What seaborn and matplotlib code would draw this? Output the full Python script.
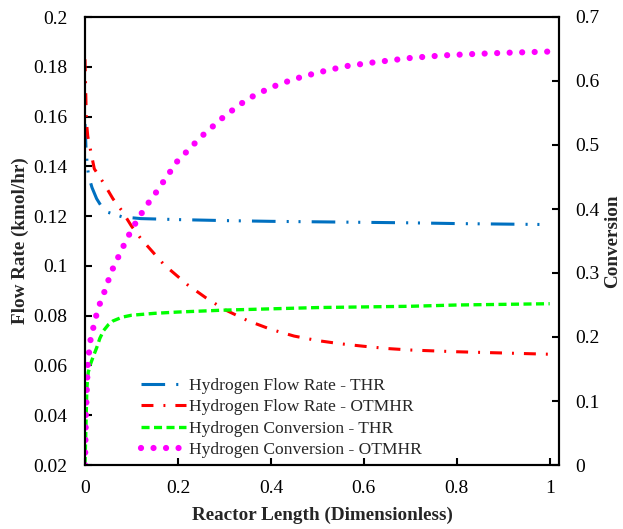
import matplotlib
matplotlib.use("Agg")
import matplotlib.pyplot as plt
import seaborn as sns
import pandas as pd
from matplotlib.ticker import FuncFormatter, MultipleLocator

# ---------------- data ----------------
x_thr_flow = [0, 0.002, 0.005, 0.008, 0.015, 0.025, 0.035, 0.05, 0.08, 0.12, 0.2, 0.3,
              0.4, 0.5, 0.6, 0.7, 0.8, 0.9, 1.0]
y_thr_flow = [0.157, 0.148, 0.14, 0.136, 0.1315, 0.127, 0.124, 0.1215, 0.1197, 0.119,
              0.1186, 0.1182, 0.1179, 0.1177, 0.1175, 0.1173, 0.1170, 0.1168, 0.1166]

x_otm_flow = [0, 0.003, 0.006, 0.02, 0.04, 0.06, 0.08, 0.1, 0.12, 0.17, 0.22, 0.26, 0.3,
              0.35, 0.4, 0.45, 0.5, 0.55, 0.6, 0.65, 0.7, 0.8, 0.9, 1.0]
y_otm_flow = [0.183, 0.158, 0.152, 0.139, 0.1333, 0.127, 0.122, 0.116, 0.111, 0.1005,
              0.0925, 0.0872, 0.0825, 0.078, 0.0745, 0.0718, 0.0700, 0.0687, 0.0677,
              0.0668, 0.0662, 0.0655, 0.065, 0.0645]

x_thr_conv = [0, 0.002, 0.004, 0.007, 0.012, 0.018, 0.025, 0.032, 0.04, 0.05, 0.06, 0.08,
              0.1, 0.15, 0.2, 0.3, 0.4, 0.5, 0.6, 0.7, 0.8, 0.9, 1.0]
y_thr_conv = [0, 0.06, 0.12, 0.145, 0.158, 0.17, 0.183, 0.198, 0.21, 0.219, 0.225, 0.231,
              0.234, 0.237, 0.239, 0.242, 0.244, 0.246, 0.247, 0.248, 0.25, 0.251, 0.252]

x_otm_conv = [0, 0.001, 0.002, 0.004, 0.006, 0.009, 0.012, 0.018, 0.024, 0.032, 0.041,
              0.05, 0.06, 0.071, 0.082, 0.095, 0.108, 0.13, 0.155, 0.198, 0.25, 0.3, 0.35,
              0.4, 0.45, 0.5, 0.56, 0.62, 0.7, 0.77, 0.83, 0.9, 1.0]
y_otm_conv = [0, 0.04, 0.08, 0.12, 0.157, 0.178, 0.196, 0.215, 0.233, 0.252, 0.269, 0.288,
              0.307, 0.324, 0.341, 0.36, 0.377, 0.403, 0.428, 0.474, 0.513, 0.545, 0.572,
              0.59, 0.603, 0.613, 0.623, 0.629, 0.636, 0.64, 0.642, 0.644, 0.646]

labels = ["Hydrogen Flow Rate - THR", "Hydrogen Flow Rate - OTMHR",
          "Hydrogen Conversion - THR", "Hydrogen Conversion - OTMHR"]

# ---------------- style ----------------
sns.set_style("white")
plt.rcParams["font.family"] = ["Liberation Serif", "DejaVu Serif"]
plt.rcParams["lines.scale_dashes"] = False
FS_TICK = 14
FS_LAB = 13.8
FS_LEG = 12.6

fig = plt.figure(figsize=(6.23, 5.29), dpi=100)
ax = fig.add_axes([85 / 623, 1 - 465 / 529, 474 / 623, 448 / 529])
ax2 = ax.twinx()

df_thr_flow = pd.DataFrame({"x": x_thr_flow, "y": y_thr_flow})
df_otm_flow = pd.DataFrame({"x": x_otm_flow, "y": y_otm_flow})
df_thr_conv = pd.DataFrame({"x": x_thr_conv, "y": y_thr_conv})
df_otm_conv = pd.DataFrame({"x": x_otm_conv, "y": y_otm_conv})

sns.lineplot(data=df_thr_flow, x="x", y="y", ax=ax, sort=False, estimator=None,
             color="#0070C0", lw=2.2, linestyle=(0, (17, 8, 1.5, 7, 1.5, 8)),
             label=labels[0], legend=False)
sns.lineplot(data=df_otm_flow, x="x", y="y", ax=ax, sort=False, estimator=None,
             color="#FF0000", lw=2.2, linestyle=(0, (8.6, 7.2, 1.4, 7.2)),
             label=labels[1], legend=False)
sns.lineplot(data=df_thr_conv, x="x", y="y", ax=ax2, sort=False, estimator=None,
             color="#00FF00", lw=2.4, linestyle=(0, (5.8, 3.2)),
             label=labels[2], legend=False)
sns.lineplot(data=df_otm_conv, x="x", y="y", ax=ax2, sort=False, estimator=None,
             color="#FF00FF", lw=4.5, linestyle=(0, (0.01, 9)),
             label=labels[3], legend=False)
ax2.get_lines()[-1].set_dash_capstyle("round")

# ---------------- axes ----------------
ax.set_xlim(0, 1.02)
ax.set_ylim(0.02, 0.2)
ax2.set_ylim(0, 0.7)
ax.xaxis.set_major_locator(MultipleLocator(0.2))
ax.yaxis.set_major_locator(MultipleLocator(0.02))
ax2.yaxis.set_major_locator(MultipleLocator(0.1))

fmt = FuncFormatter(lambda v, p: ("%.2f" % v).rstrip("0").rstrip(".") if abs(v) > 1e-9 else "0")
ax.xaxis.set_major_formatter(fmt)
ax.yaxis.set_major_formatter(fmt)
ax2.yaxis.set_major_formatter(fmt)

for a in (ax, ax2):
    for s in a.spines.values():
        s.set_color("black")
        s.set_linewidth(1.5)
ax.tick_params(axis="y", direction="in", length=5, width=1.5, labelsize=FS_TICK,
               colors="black", pad=12.5, left=True, right=False)
ax.tick_params(axis="x", direction="in", length=5, width=1.5, labelsize=FS_TICK,
               colors="black", pad=11, bottom=True, top=False)
ax2.tick_params(axis="y", direction="in", length=5, width=1.5, labelsize=FS_TICK,
                colors="black", pad=12, right=True)

ax.set_xlabel("Reactor Length (Dimensionless)", fontsize=FS_LAB, fontweight="bold", labelpad=7)
ax.set_ylabel("Flow Rate (kmol/hr)", fontsize=FS_LAB, fontweight="bold", labelpad=3)
ax2.set_ylabel("Conversion", fontsize=FS_LAB, fontweight="bold", labelpad=3)

handles = ax.get_lines() + ax2.get_lines()
leg = ax.legend(handles=handles, labels=labels, loc="upper left",
                bbox_to_anchor=(0.118, 0.195), frameon=False, fontsize=FS_LEG,
                handlelength=2.6, handletextpad=0.15, labelspacing=0.3,
                borderpad=0, borderaxespad=0)

fig.savefig("out.png", dpi=100)
